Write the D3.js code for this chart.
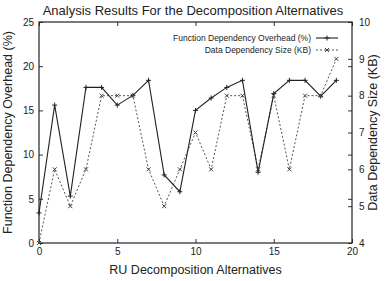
<!DOCTYPE html>
<html>
<head>
<meta charset="utf-8">
<script src="https://cdn.jsdelivr.net/npm/d3@7"></script>
<style>
  body { margin: 0; background: #fff; }
  text { font-family: "Liberation Sans", Arial, sans-serif; fill: #222; }
</style>
</head>
<body>
<script>
//////////////// Data ////////////////////
var alternatives = d3.range(20);
var funcOverhead = [3.4, 15.6, 5.3, 17.6, 17.6, 15.6, 16.7, 18.4, 7.7, 5.8,
                    15.0, 16.4, 17.6, 18.4, 8.0, 16.9, 18.4, 18.4, 16.6, 18.4];
var dataSize = [4, 6, 5, 6, 8, 8, 8, 6, 5, 6,
                7, 6, 8, 8, 6, 8, 6, 8, 8, 9];
var xTicks = [0, 5, 10, 15, 20];
var yTicks = [0, 5, 10, 15, 20, 25];
var y2Ticks = [4, 5, 6, 7, 8, 9, 10];

//////////////// Layout ////////////////////
var W = 385, H = 281;
var margin = {top: 22, right: 33, bottom: 38, left: 39};
var width = W - margin.left - margin.right,
    height = H - margin.top - margin.bottom;

var svg = d3.select("body").append("svg")
  .attr("width", W).attr("height", H);
var g = svg.append("g")
  .attr("transform", "translate(" + margin.left + "," + margin.top + ")");

//////////////// Scales ////////////////////
var x = d3.scaleLinear().domain([0, 20]).range([0, width]);
var y = d3.scaleLinear().domain([0, 25]).range([height, 0]);
var y2 = d3.scaleLinear().domain([4, 10]).range([height, 0]);

//////////////// Axes ////////////////////
function styleAxis(sel){
  sel.select(".domain").remove();
  sel.selectAll("line").attr("stroke", "#333");
  sel.selectAll("text").style("font-size", "10px").attr("fill", "#222");
}
g.append("g").attr("transform", "translate(0," + height + ")")
  .call(d3.axisBottom(x).tickValues(xTicks).tickSizeInner(-4).tickSizeOuter(0).tickPadding(5))
  .call(styleAxis);
g.append("g")
  .call(d3.axisTop(x).tickValues(xTicks).tickSizeInner(-4).tickSizeOuter(0).tickFormat(""))
  .call(styleAxis);
g.append("g")
  .call(d3.axisLeft(y).tickValues(yTicks).tickSizeInner(-4).tickSizeOuter(0).tickPadding(5))
  .call(styleAxis);
g.append("g").attr("transform", "translate(" + width + ",0)")
  .call(d3.axisLeft(y).tickValues(yTicks).tickSizeInner(4).tickSizeOuter(0).tickFormat(""))
  .call(styleAxis);
g.append("g").attr("transform", "translate(" + width + ",0)")
  .call(d3.axisRight(y2).tickValues(y2Ticks).tickFormat(d3.format("d"))
    .tickSizeInner(-4).tickSizeOuter(0).tickPadding(7))
  .call(styleAxis);

g.append("rect")
  .attr("width", width).attr("height", height)
  .attr("fill", "none").attr("stroke", "#222").attr("stroke-width", 1.2);

//////////////// Lines ////////////////////
var line1 = d3.line()
  .x(function(d, i){ return x(alternatives[i]); })
  .y(function(d){ return y(d); });
var line2 = d3.line()
  .x(function(d, i){ return x(alternatives[i]); })
  .y(function(d){ return y2(d); });

g.append("path").datum(dataSize)
  .attr("d", line2).attr("fill", "none")
  .attr("stroke", "#555").attr("stroke-width", 1).attr("stroke-dasharray", "2,2");
g.append("path").datum(funcOverhead)
  .attr("d", line1).attr("fill", "none")
  .attr("stroke", "#222").attr("stroke-width", 1.1);

// markers: + for overhead, x for size
function plus(cx, cy, s){ return "M"+(cx-s)+","+cy+"H"+(cx+s)+"M"+cx+","+(cy-s)+"V"+(cy+s); }
function cross(cx, cy, s){ return "M"+(cx-s)+","+(cy-s)+"L"+(cx+s)+","+(cy+s)+"M"+(cx-s)+","+(cy+s)+"L"+(cx+s)+","+(cy-s); }

g.selectAll("path.m1").data(funcOverhead).enter().append("path")
  .attr("class", "m1")
  .attr("d", function(d, i){ return plus(x(alternatives[i]), y(d), 2.5); })
  .attr("stroke", "#222").attr("stroke-width", 1);
g.selectAll("path.m2").data(dataSize).enter().append("path")
  .attr("class", "m2")
  .attr("d", function(d, i){ return cross(x(alternatives[i]), y2(d), 2); })
  .attr("stroke", "#444").attr("stroke-width", 1);

//////////////// Legend ////////////////////
var leg = g.append("g").attr("transform", "translate(" + (width - 10) + ",16)");
leg.append("text").attr("x", -31).attr("y", 3).attr("text-anchor", "end")
  .style("font-size", "8.5px").text("Function Dependency Overhead (%)");
leg.append("path").attr("d", "M-26,0H-4").attr("stroke", "#222").attr("stroke-width", 1.1);
leg.append("path").attr("d", plus(-15, 0, 2.5)).attr("stroke", "#222");
leg.append("text").attr("x", -31).attr("y", 15).attr("text-anchor", "end")
  .style("font-size", "8.5px").text("Data Dependency Size (KB)");
leg.append("path").attr("d", "M-26,12H-4").attr("stroke", "#555").attr("stroke-dasharray", "2,2");
leg.append("path").attr("d", cross(-15, 12, 2)).attr("stroke", "#444");

//////////////// Titles ////////////////////
svg.append("text").attr("x", 193).attr("y", 15).attr("text-anchor", "middle")
  .style("font-size", "13px").text("Analysis Results For the Decomposition Alternatives");
svg.append("text").attr("x", margin.left + width / 2).attr("y", 274).attr("text-anchor", "middle")
  .style("font-size", "12.5px").text("RU Decomposition Alternatives");
svg.append("text").attr("transform", "translate(12," + (margin.top + height / 2) + ") rotate(-90)")
  .attr("text-anchor", "middle").style("font-size", "12.5px")
  .text("Function Dependency Overhead (%)");
svg.append("text").attr("transform", "translate(377," + (margin.top + height / 2) + ") rotate(-90)")
  .attr("text-anchor", "middle").style("font-size", "12.5px")
  .text("Data Dependency Size (KB)");
</script>
</body>
</html>
